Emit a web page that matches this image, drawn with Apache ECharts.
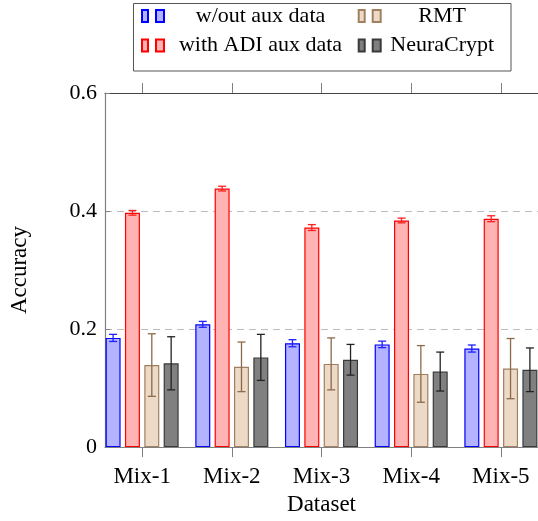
<!DOCTYPE html>
<html lang="en">
<head>
    <meta charset="utf-8">
    <title>Accuracy per dataset</title>
    <script src="https://cdn.jsdelivr.net/npm/echarts@6/dist/echarts.min.js"></script>
    <style>
        html, body { margin: 0; padding: 0; background: #fff; }
        #chart { width: 538px; height: 521px; }
    </style>
</head>
<body>
    <div id="chart"></div>
    <script>
        // values
        var categories = ['Mix-1', 'Mix-2', 'Mix-3', 'Mix-4', 'Mix-5'];

        var woutAux = [0.185, 0.208, 0.176, 0.174, 0.167];
        var woutAuxErr = [0.006, 0.005, 0.006, 0.0055, 0.006];
        var withAdi = [0.397, 0.438, 0.372, 0.384, 0.387];
        var withAdiErr = [0.004, 0.004, 0.005, 0.004, 0.005];
        var rmt = [0.139, 0.136, 0.141, 0.124, 0.133];
        var rmtErr = [0.053, 0.042, 0.044, 0.048, 0.051];
        var neura = [0.142, 0.152, 0.148, 0.128, 0.131];
        var neuraErr = [0.045, 0.039, 0.026, 0.033, 0.037];

        var FONT = '"Liberation Serif", "DejaVu Serif", serif';
        var BAR_W = 15;
        var GAP = 4.35;

        var groups = [
            { name: 'w/out aux data', vals: woutAux, errs: woutAuxErr, fill: '#b3b3ff', line: '#0000ff', err: '#2020ff' },
            { name: 'with ADI aux data', vals: withAdi, errs: withAdiErr, fill: '#ffb3b3', line: '#ff0000', err: '#ff2020' },
            { name: 'RMT', vals: rmt, errs: rmtErr, fill: '#ecd9c6', line: '#a08060', err: '#8c6a4a' },
            { name: 'NeuraCrypt', vals: neura, errs: neuraErr, fill: '#808080', line: '#3a3a3a', err: '#222222' }
        ];

        var series = [];
        groups.forEach(function (g) {
            series.push({
                name: g.name,
                type: 'bar',
                barWidth: BAR_W,
                barGap: (GAP / BAR_W * 100) + '%',
                data: g.vals.map(function (v, i) { return [i, v]; }),
                itemStyle: { color: g.fill, borderColor: g.line, borderWidth: 1.2 },
                emphasis: { disabled: true }
            });
        });
        // error bars, shifted to sit on their own bar
        groups.forEach(function (g, gi) {
            var offset = (gi - 1.5) * (BAR_W + GAP);
            series.push({
                type: 'custom',
                z: 5,
                silent: true,
                data: g.vals.map(function (v, i) { return [i, v, g.errs[i]]; }),
                renderItem: function (params, api) {
                    var x = api.value(0), v = api.value(1), e = api.value(2);
                    var top = api.coord([x, v + e]);
                    var bot = api.coord([x, v - e]);
                    var cx = top[0] + offset;
                    var s = { stroke: g.err, lineWidth: 1.3 };
                    return {
                        type: 'group',
                        children: [
                            { type: 'line', shape: { x1: cx, y1: top[1], x2: cx, y2: bot[1] }, style: s },
                            { type: 'line', shape: { x1: cx - 4, y1: top[1], x2: cx + 4, y2: top[1] }, style: s },
                            { type: 'line', shape: { x1: cx - 4, y1: bot[1], x2: cx + 4, y2: bot[1] }, style: s }
                        ]
                    };
                }
            });
        });

        var legendIcon = 'path://M0,0H6V12H0Z M14,0H22V12H14Z';
        function legendCol(left, names, w) {
            return {
                orient: 'vertical',
                left: left,
                top: 3,
                padding: 0,
                itemGap: 3.6,
                itemWidth: 22,
                itemHeight: 12,
                icon: legendIcon,
                selectedMode: false,
                data: names,
                formatter: '{t|{name}}',
                textStyle: {
                    lineHeight: 26,
                    rich: { t: { width: w, align: 'center', fontSize: 22, lineHeight: 26, fontFamily: FONT, color: '#000' } }
                }
            };
        }

        var myChart = echarts.init(document.getElementById('chart'));
        myChart.setOption({
            animation: false,
            grid: { left: 103, top: 93, width: 439.4, height: 362, containLabel: false },
            legend: [
                legendCol(141, ['w/out aux data', 'with ADI aux data'], 183),
                legendCol(357.7, ['RMT', 'NeuraCrypt'], 113)
            ],
            graphic: [{
                type: 'rect',
                z: -10,
                shape: { x: 133.5, y: 3.5, width: 377.5, height: 67.5 },
                style: { fill: 'none', stroke: '#555', lineWidth: 1 }
            }],
            xAxis: [{
                type: 'value',
                min: -0.414,
                max: 4.414,
                name: 'Dataset',
                nameLocation: 'middle',
                nameGap: 45,
                nameTextStyle: { fontFamily: FONT, fontSize: 23, color: '#000' },
                splitLine: { show: false },
                axisLine: { show: true, onZero: false, lineStyle: { color: '#808080', width: 1.2 } },
                axisTick: { show: true, length: 10, customValues: [0, 1, 2, 3, 4], lineStyle: { color: '#808080' } },
                axisLabel: {
                    customValues: [0, 1, 2, 3, 4],
                    margin: 18,
                    fontFamily: FONT,
                    fontSize: 23,
                    color: '#000',
                    formatter: function (v) { return categories[Math.round(v)]; }
                }
            }, {
                type: 'value',
                position: 'top',
                min: -0.414,
                max: 4.414,
                splitLine: { show: false },
                axisLine: { show: true, onZero: false, lineStyle: { color: '#444', width: 1.2 } },
                axisTick: { show: true, length: 10, customValues: [0, 1, 2, 3, 4], lineStyle: { color: '#808080' } },
                axisLabel: { show: false }
            }],
            yAxis: {
                type: 'value',
                min: 0,
                max: 0.6,
                interval: 0.2,
                name: 'Accuracy',
                nameLocation: 'middle',
                nameGap: 74,
                nameTextStyle: { fontFamily: FONT, fontSize: 23, color: '#000' },
                axisLine: { show: true, onZero: false, lineStyle: { color: '#808080', width: 1.2 } },
                axisTick: { show: true, inside: true, length: 5, lineStyle: { color: '#808080' } },
                splitLine: { show: true, lineStyle: { color: '#bdbdbd', type: [7, 5], width: 1 } },
                axisLabel: {
                    margin: 8,
                    fontFamily: FONT,
                    fontSize: 22,
                    color: '#000',
                    formatter: function (v) { return String(+v.toFixed(1)); }
                }
            },
            series: series
        });
    </script>
</body>
</html>
